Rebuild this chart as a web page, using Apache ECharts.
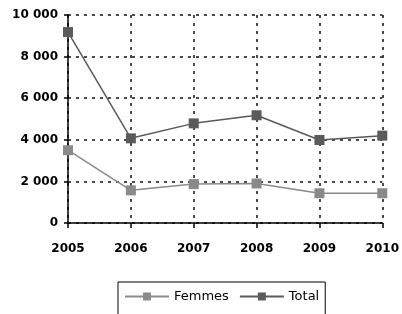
<!DOCTYPE html>
<html>
<head>
<meta charset="utf-8">
<script src="https://cdn.jsdelivr.net/npm/echarts@6/dist/echarts.min.js"></script>
<style>
  html, body { margin: 0; padding: 0; background: #fff; }
  #chart { width: 402px; height: 314px; }
</style>
</head>
<body>
<div id="chart"></div>
<script>
// values
const years = ['2005', '2006', '2007', '2008', '2009', '2010']
const femmes = [3500, 1570, 1870, 1900, 1430, 1430]
const total = [9180, 4070, 4790, 5180, 3990, 4200]
const yTicks = [0, 2000, 4000, 6000, 8000, 10000]

const fmt = (v) => String(v).replace(/\B(?=(\d{3})+(?!\d))/g, ' ')

const chart = echarts.init(document.getElementById('chart'), null, { renderer: 'canvas' })

const dotted = { color: '#111', width: 1.5, type: [3, 5] }

chart.setOption({
  animation: false,
  textStyle: { fontFamily: 'DejaVu Sans' },
  grid: { left: 68, right: 17, top: 15, bottom: 91 },
  xAxis: {
    type: 'category',
    data: years,
    boundaryGap: false,
    axisLine: { lineStyle: { color: '#000', width: 1.5 } },
    axisTick: { show: true, length: 5, lineStyle: { color: '#000', width: 1.5 } },
    axisLabel: { color: '#000', fontSize: 12, fontWeight: 'bold', margin: 20 },
    splitLine: { show: true, lineStyle: dotted },
  },
  yAxis: {
    type: 'value',
    min: yTicks[0],
    max: yTicks[yTicks.length - 1],
    interval: yTicks[1] - yTicks[0],
    axisLine: { show: true, lineStyle: { color: '#000', width: 1.5 } },
    axisTick: { show: true, length: 4, lineStyle: { color: '#000', width: 1.5 } },
    axisLabel: { color: '#000', fontSize: 12, fontWeight: 'bold', margin: 10, formatter: fmt },
    splitLine: { show: true, lineStyle: dotted },
  },
  legend: {
    data: ['Femmes', 'Total'],
    top: 282,
    left: 118,
    borderColor: '#000',
    borderWidth: 1,
    padding: [8, 6, 14, 6],
    itemWidth: 44,
    itemHeight: 10,
    itemGap: 10,
    textStyle: { color: '#000', fontSize: 13 },
  },
  series: [
    {
      name: 'Femmes',
      type: 'line',
      data: femmes,
      symbol: 'rect',
      symbolSize: 10,
      itemStyle: { color: '#8a8a8a' },
      lineStyle: { color: '#8a8a8a', width: 1.5 },
    },
    {
      name: 'Total',
      type: 'line',
      data: total,
      symbol: 'rect',
      symbolSize: 10,
      itemStyle: { color: '#5a5a5a' },
      lineStyle: { color: '#5a5a5a', width: 1.5 },
    },
  ],
})
</script>
</body>
</html>
